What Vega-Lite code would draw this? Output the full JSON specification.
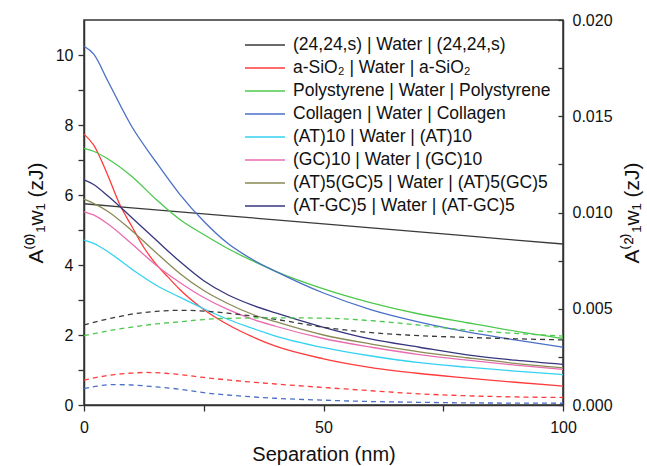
{
  "$schema": "https://vega.github.io/schema/vega-lite/v6.json",
  "width": 479,
  "height": 385,
  "autosize": {"type": "none"},
  "padding": {"left": 84, "top": 20, "right": 84, "bottom": 61},
  "background": "white",
  "config": {
    "font": "Liberation Sans",
    "view": {"stroke": "#333333", "strokeWidth": 1.5},
    "axis": {
      "grid": false,
      "domainColor": "#333333",
      "domainWidth": 1.5,
      "tickColor": "#333333",
      "tickWidth": 1.3,
      "labelFontSize": 16,
      "labelColor": "#111111",
      "labelFlush": false,
      "titleFontSize": 20,
      "titleFontWeight": "normal",
      "titleColor": "#111111"
    },
    "legend": {
      "labelFontSize": 17.5,
      "labelColor": "#111111",
      "symbolType": "M-2,0H2",
      "symbolSize": 400,
      "symbolStrokeWidth": 1.3,
      "rowPadding": 3,
      "labelOffset": 17,
      "labelLimit": 400
    }
  },
  "datasets": {
    "solid": [
      {"s": "(24,24,s) | Water | (24,24,s)", "x": 0, "y": 5.75},
      {"s": "(24,24,s) | Water | (24,24,s)", "x": 20, "y": 5.52},
      {"s": "(24,24,s) | Water | (24,24,s)", "x": 40, "y": 5.29},
      {"s": "(24,24,s) | Water | (24,24,s)", "x": 60, "y": 5.06},
      {"s": "(24,24,s) | Water | (24,24,s)", "x": 80, "y": 4.83},
      {"s": "(24,24,s) | Water | (24,24,s)", "x": 100, "y": 4.6},
      {"s": "a-SiO₂ | Water | a-SiO₂", "x": 0, "y": 7.74},
      {"s": "a-SiO₂ | Water | a-SiO₂", "x": 2, "y": 7.43},
      {"s": "a-SiO₂ | Water | a-SiO₂", "x": 5, "y": 6.55},
      {"s": "a-SiO₂ | Water | a-SiO₂", "x": 7.5, "y": 5.72},
      {"s": "a-SiO₂ | Water | a-SiO₂", "x": 10, "y": 5.1},
      {"s": "a-SiO₂ | Water | a-SiO₂", "x": 12.5, "y": 4.5},
      {"s": "a-SiO₂ | Water | a-SiO₂", "x": 15, "y": 4.03},
      {"s": "a-SiO₂ | Water | a-SiO₂", "x": 17.5, "y": 3.66},
      {"s": "a-SiO₂ | Water | a-SiO₂", "x": 20, "y": 3.3},
      {"s": "a-SiO₂ | Water | a-SiO₂", "x": 25, "y": 2.73},
      {"s": "a-SiO₂ | Water | a-SiO₂", "x": 30, "y": 2.3},
      {"s": "a-SiO₂ | Water | a-SiO₂", "x": 35, "y": 1.96},
      {"s": "a-SiO₂ | Water | a-SiO₂", "x": 40, "y": 1.68},
      {"s": "a-SiO₂ | Water | a-SiO₂", "x": 50, "y": 1.32},
      {"s": "a-SiO₂ | Water | a-SiO₂", "x": 60, "y": 1.07},
      {"s": "a-SiO₂ | Water | a-SiO₂", "x": 70, "y": 0.9},
      {"s": "a-SiO₂ | Water | a-SiO₂", "x": 80, "y": 0.77},
      {"s": "a-SiO₂ | Water | a-SiO₂", "x": 90, "y": 0.65},
      {"s": "a-SiO₂ | Water | a-SiO₂", "x": 100, "y": 0.54},
      {"s": "Polystyrene | Water | Polystyrene", "x": 0, "y": 7.33},
      {"s": "Polystyrene | Water | Polystyrene", "x": 2, "y": 7.25},
      {"s": "Polystyrene | Water | Polystyrene", "x": 5, "y": 7.03},
      {"s": "Polystyrene | Water | Polystyrene", "x": 10, "y": 6.53},
      {"s": "Polystyrene | Water | Polystyrene", "x": 15, "y": 5.88},
      {"s": "Polystyrene | Water | Polystyrene", "x": 20, "y": 5.3},
      {"s": "Polystyrene | Water | Polystyrene", "x": 25, "y": 4.87},
      {"s": "Polystyrene | Water | Polystyrene", "x": 30, "y": 4.47},
      {"s": "Polystyrene | Water | Polystyrene", "x": 35, "y": 4.13},
      {"s": "Polystyrene | Water | Polystyrene", "x": 40, "y": 3.82},
      {"s": "Polystyrene | Water | Polystyrene", "x": 50, "y": 3.32},
      {"s": "Polystyrene | Water | Polystyrene", "x": 60, "y": 2.92},
      {"s": "Polystyrene | Water | Polystyrene", "x": 70, "y": 2.6},
      {"s": "Polystyrene | Water | Polystyrene", "x": 80, "y": 2.35},
      {"s": "Polystyrene | Water | Polystyrene", "x": 90, "y": 2.11},
      {"s": "Polystyrene | Water | Polystyrene", "x": 100, "y": 1.9},
      {"s": "Collagen | Water | Collagen", "x": 0, "y": 10.25},
      {"s": "Collagen | Water | Collagen", "x": 2, "y": 10.03},
      {"s": "Collagen | Water | Collagen", "x": 5, "y": 9.25},
      {"s": "Collagen | Water | Collagen", "x": 10, "y": 7.95},
      {"s": "Collagen | Water | Collagen", "x": 15, "y": 6.95},
      {"s": "Collagen | Water | Collagen", "x": 20, "y": 6.02},
      {"s": "Collagen | Water | Collagen", "x": 25, "y": 5.25},
      {"s": "Collagen | Water | Collagen", "x": 30, "y": 4.62},
      {"s": "Collagen | Water | Collagen", "x": 35, "y": 4.17},
      {"s": "Collagen | Water | Collagen", "x": 40, "y": 3.82},
      {"s": "Collagen | Water | Collagen", "x": 50, "y": 3.2},
      {"s": "Collagen | Water | Collagen", "x": 60, "y": 2.72},
      {"s": "Collagen | Water | Collagen", "x": 70, "y": 2.37},
      {"s": "Collagen | Water | Collagen", "x": 80, "y": 2.09},
      {"s": "Collagen | Water | Collagen", "x": 90, "y": 1.86},
      {"s": "Collagen | Water | Collagen", "x": 100, "y": 1.65},
      {"s": "(AT)10 | Water | (AT)10", "x": 0, "y": 4.71},
      {"s": "(AT)10 | Water | (AT)10", "x": 2, "y": 4.62},
      {"s": "(AT)10 | Water | (AT)10", "x": 5, "y": 4.38},
      {"s": "(AT)10 | Water | (AT)10", "x": 10, "y": 3.88},
      {"s": "(AT)10 | Water | (AT)10", "x": 15, "y": 3.43},
      {"s": "(AT)10 | Water | (AT)10", "x": 20, "y": 3.08},
      {"s": "(AT)10 | Water | (AT)10", "x": 25, "y": 2.75},
      {"s": "(AT)10 | Water | (AT)10", "x": 30, "y": 2.45},
      {"s": "(AT)10 | Water | (AT)10", "x": 35, "y": 2.2},
      {"s": "(AT)10 | Water | (AT)10", "x": 40, "y": 1.97},
      {"s": "(AT)10 | Water | (AT)10", "x": 50, "y": 1.64},
      {"s": "(AT)10 | Water | (AT)10", "x": 60, "y": 1.4},
      {"s": "(AT)10 | Water | (AT)10", "x": 70, "y": 1.21},
      {"s": "(AT)10 | Water | (AT)10", "x": 80, "y": 1.08},
      {"s": "(AT)10 | Water | (AT)10", "x": 90, "y": 0.97},
      {"s": "(AT)10 | Water | (AT)10", "x": 100, "y": 0.87},
      {"s": "(GC)10 | Water | (GC)10", "x": 0, "y": 5.52},
      {"s": "(GC)10 | Water | (GC)10", "x": 2, "y": 5.43},
      {"s": "(GC)10 | Water | (GC)10", "x": 5, "y": 5.17},
      {"s": "(GC)10 | Water | (GC)10", "x": 10, "y": 4.6},
      {"s": "(GC)10 | Water | (GC)10", "x": 15, "y": 4.0},
      {"s": "(GC)10 | Water | (GC)10", "x": 20, "y": 3.5},
      {"s": "(GC)10 | Water | (GC)10", "x": 25, "y": 3.07},
      {"s": "(GC)10 | Water | (GC)10", "x": 30, "y": 2.73},
      {"s": "(GC)10 | Water | (GC)10", "x": 35, "y": 2.46},
      {"s": "(GC)10 | Water | (GC)10", "x": 40, "y": 2.25},
      {"s": "(GC)10 | Water | (GC)10", "x": 50, "y": 1.9},
      {"s": "(GC)10 | Water | (GC)10", "x": 60, "y": 1.65},
      {"s": "(GC)10 | Water | (GC)10", "x": 70, "y": 1.44},
      {"s": "(GC)10 | Water | (GC)10", "x": 80, "y": 1.28},
      {"s": "(GC)10 | Water | (GC)10", "x": 90, "y": 1.14},
      {"s": "(GC)10 | Water | (GC)10", "x": 100, "y": 1.02},
      {"s": "(AT)5(GC)5 | Water | (AT)5(GC)5", "x": 0, "y": 5.88},
      {"s": "(AT)5(GC)5 | Water | (AT)5(GC)5", "x": 2, "y": 5.76},
      {"s": "(AT)5(GC)5 | Water | (AT)5(GC)5", "x": 5, "y": 5.53},
      {"s": "(AT)5(GC)5 | Water | (AT)5(GC)5", "x": 10, "y": 4.98},
      {"s": "(AT)5(GC)5 | Water | (AT)5(GC)5", "x": 15, "y": 4.36},
      {"s": "(AT)5(GC)5 | Water | (AT)5(GC)5", "x": 20, "y": 3.76},
      {"s": "(AT)5(GC)5 | Water | (AT)5(GC)5", "x": 25, "y": 3.27},
      {"s": "(AT)5(GC)5 | Water | (AT)5(GC)5", "x": 30, "y": 2.9},
      {"s": "(AT)5(GC)5 | Water | (AT)5(GC)5", "x": 35, "y": 2.6},
      {"s": "(AT)5(GC)5 | Water | (AT)5(GC)5", "x": 40, "y": 2.38},
      {"s": "(AT)5(GC)5 | Water | (AT)5(GC)5", "x": 50, "y": 2.0},
      {"s": "(AT)5(GC)5 | Water | (AT)5(GC)5", "x": 60, "y": 1.74},
      {"s": "(AT)5(GC)5 | Water | (AT)5(GC)5", "x": 70, "y": 1.52},
      {"s": "(AT)5(GC)5 | Water | (AT)5(GC)5", "x": 80, "y": 1.35},
      {"s": "(AT)5(GC)5 | Water | (AT)5(GC)5", "x": 90, "y": 1.19},
      {"s": "(AT)5(GC)5 | Water | (AT)5(GC)5", "x": 100, "y": 1.06},
      {"s": "(AT-GC)5 | Water | (AT-GC)5", "x": 0, "y": 6.43},
      {"s": "(AT-GC)5 | Water | (AT-GC)5", "x": 2, "y": 6.3},
      {"s": "(AT-GC)5 | Water | (AT-GC)5", "x": 5, "y": 5.97},
      {"s": "(AT-GC)5 | Water | (AT-GC)5", "x": 10, "y": 5.35},
      {"s": "(AT-GC)5 | Water | (AT-GC)5", "x": 15, "y": 4.72},
      {"s": "(AT-GC)5 | Water | (AT-GC)5", "x": 20, "y": 4.1},
      {"s": "(AT-GC)5 | Water | (AT-GC)5", "x": 25, "y": 3.55},
      {"s": "(AT-GC)5 | Water | (AT-GC)5", "x": 30, "y": 3.15},
      {"s": "(AT-GC)5 | Water | (AT-GC)5", "x": 35, "y": 2.86},
      {"s": "(AT-GC)5 | Water | (AT-GC)5", "x": 40, "y": 2.63},
      {"s": "(AT-GC)5 | Water | (AT-GC)5", "x": 50, "y": 2.22},
      {"s": "(AT-GC)5 | Water | (AT-GC)5", "x": 60, "y": 1.88},
      {"s": "(AT-GC)5 | Water | (AT-GC)5", "x": 70, "y": 1.65},
      {"s": "(AT-GC)5 | Water | (AT-GC)5", "x": 80, "y": 1.43},
      {"s": "(AT-GC)5 | Water | (AT-GC)5", "x": 90, "y": 1.28},
      {"s": "(AT-GC)5 | Water | (AT-GC)5", "x": 100, "y": 1.16}
    ],
    "dashed": [
      {"s": "(24,24,s) | Water | (24,24,s)", "x": 0, "y": 0.00416},
      {"s": "(24,24,s) | Water | (24,24,s)", "x": 5, "y": 0.00447},
      {"s": "(24,24,s) | Water | (24,24,s)", "x": 10, "y": 0.00472},
      {"s": "(24,24,s) | Water | (24,24,s)", "x": 15, "y": 0.00486},
      {"s": "(24,24,s) | Water | (24,24,s)", "x": 20, "y": 0.00492},
      {"s": "(24,24,s) | Water | (24,24,s)", "x": 25, "y": 0.00488},
      {"s": "(24,24,s) | Water | (24,24,s)", "x": 30, "y": 0.00477},
      {"s": "(24,24,s) | Water | (24,24,s)", "x": 40, "y": 0.00445},
      {"s": "(24,24,s) | Water | (24,24,s)", "x": 50, "y": 0.00404},
      {"s": "(24,24,s) | Water | (24,24,s)", "x": 60, "y": 0.00376},
      {"s": "(24,24,s) | Water | (24,24,s)", "x": 70, "y": 0.0036},
      {"s": "(24,24,s) | Water | (24,24,s)", "x": 80, "y": 0.00351},
      {"s": "(24,24,s) | Water | (24,24,s)", "x": 90, "y": 0.00344},
      {"s": "(24,24,s) | Water | (24,24,s)", "x": 100, "y": 0.00338},
      {"s": "Polystyrene | Water | Polystyrene", "x": 0, "y": 0.0036},
      {"s": "Polystyrene | Water | Polystyrene", "x": 5, "y": 0.00385},
      {"s": "Polystyrene | Water | Polystyrene", "x": 10, "y": 0.00405},
      {"s": "Polystyrene | Water | Polystyrene", "x": 15, "y": 0.00421},
      {"s": "Polystyrene | Water | Polystyrene", "x": 20, "y": 0.00432},
      {"s": "Polystyrene | Water | Polystyrene", "x": 25, "y": 0.00444},
      {"s": "Polystyrene | Water | Polystyrene", "x": 30, "y": 0.0045},
      {"s": "Polystyrene | Water | Polystyrene", "x": 40, "y": 0.00453},
      {"s": "Polystyrene | Water | Polystyrene", "x": 50, "y": 0.00451},
      {"s": "Polystyrene | Water | Polystyrene", "x": 60, "y": 0.00438},
      {"s": "Polystyrene | Water | Polystyrene", "x": 70, "y": 0.00415},
      {"s": "Polystyrene | Water | Polystyrene", "x": 80, "y": 0.00389},
      {"s": "Polystyrene | Water | Polystyrene", "x": 90, "y": 0.00372},
      {"s": "Polystyrene | Water | Polystyrene", "x": 100, "y": 0.00358},
      {"s": "a-SiO₂ | Water | a-SiO₂", "x": 0, "y": 0.00129},
      {"s": "a-SiO₂ | Water | a-SiO₂", "x": 3, "y": 0.00145},
      {"s": "a-SiO₂ | Water | a-SiO₂", "x": 6, "y": 0.00157},
      {"s": "a-SiO₂ | Water | a-SiO₂", "x": 10, "y": 0.00166},
      {"s": "a-SiO₂ | Water | a-SiO₂", "x": 13, "y": 0.00169},
      {"s": "a-SiO₂ | Water | a-SiO₂", "x": 17, "y": 0.00165},
      {"s": "a-SiO₂ | Water | a-SiO₂", "x": 20, "y": 0.00158},
      {"s": "a-SiO₂ | Water | a-SiO₂", "x": 25, "y": 0.00143},
      {"s": "a-SiO₂ | Water | a-SiO₂", "x": 30, "y": 0.0013},
      {"s": "a-SiO₂ | Water | a-SiO₂", "x": 40, "y": 0.00109},
      {"s": "a-SiO₂ | Water | a-SiO₂", "x": 50, "y": 0.00091},
      {"s": "a-SiO₂ | Water | a-SiO₂", "x": 60, "y": 0.00074},
      {"s": "a-SiO₂ | Water | a-SiO₂", "x": 70, "y": 0.00058},
      {"s": "a-SiO₂ | Water | a-SiO₂", "x": 80, "y": 0.00048},
      {"s": "a-SiO₂ | Water | a-SiO₂", "x": 90, "y": 0.00042},
      {"s": "a-SiO₂ | Water | a-SiO₂", "x": 100, "y": 0.00039},
      {"s": "Collagen | Water | Collagen", "x": 0, "y": 0.00085},
      {"s": "Collagen | Water | Collagen", "x": 3, "y": 0.00099},
      {"s": "Collagen | Water | Collagen", "x": 6, "y": 0.00106},
      {"s": "Collagen | Water | Collagen", "x": 10, "y": 0.00104},
      {"s": "Collagen | Water | Collagen", "x": 15, "y": 0.00094},
      {"s": "Collagen | Water | Collagen", "x": 20, "y": 0.00082},
      {"s": "Collagen | Water | Collagen", "x": 25, "y": 0.00064},
      {"s": "Collagen | Water | Collagen", "x": 30, "y": 0.00052},
      {"s": "Collagen | Water | Collagen", "x": 40, "y": 0.00035},
      {"s": "Collagen | Water | Collagen", "x": 50, "y": 0.00025},
      {"s": "Collagen | Water | Collagen", "x": 60, "y": 0.00018},
      {"s": "Collagen | Water | Collagen", "x": 70, "y": 0.00014},
      {"s": "Collagen | Water | Collagen", "x": 80, "y": 0.00011},
      {"s": "Collagen | Water | Collagen", "x": 90, "y": 0.0001},
      {"s": "Collagen | Water | Collagen", "x": 100, "y": 0.00009}
    ]
  },
  "layer": [
    {
      "data": {"name": "solid"},
      "mark": {"type": "line", "strokeWidth": 1.3, "interpolate": "monotone"},
      "encoding": {
        "x": {
          "field": "x", "type": "quantitative",
          "scale": {"domain": [0, 100], "nice": false},
          "axis": {
            "title": "Separation (nm)",
            "titlePadding": 9,
            "values": [0, 25, 50, 75, 100],
            "labelExpr": "datum.value % 50 == 0 ? datum.label : ''",
            "tickSize": 6,
            "labelPadding": 8
          }
        },
        "y": {
          "field": "y", "type": "quantitative",
          "scale": {"domain": [0, 11], "nice": false},
          "axis": {
            "orient": "left",
            "title": "A⁽⁰⁾₁w₁ (zJ)",
            "titleFontSize": 21,
            "values": [0, 1, 2, 3, 4, 5, 6, 7, 8, 9, 10],
            "labelExpr": "datum.value % 2 == 0 ? datum.label : ''",
            "tickSize": 6,
            "labelPadding": 5,
            "titlePadding": 9
          }
        },
        "color": {
          "field": "s", "type": "nominal",
          "scale": {
            "domain": ["(24,24,s) | Water | (24,24,s)", "a-SiO₂ | Water | a-SiO₂", "Polystyrene | Water | Polystyrene", "Collagen | Water | Collagen", "(AT)10 | Water | (AT)10", "(GC)10 | Water | (GC)10", "(AT)5(GC)5 | Water | (AT)5(GC)5", "(AT-GC)5 | Water | (AT-GC)5"],
            "range": ["#3a3a3a", "#ff3b3b", "#4cc84c", "#4a6fc7", "#33d2f0", "#ea6cb0", "#8a8a55", "#36367e"]
          },
          "legend": {"title": null, "orient": "none", "legendX": 170, "legendY": 14}
        }
      }
    },
    {
      "data": {"name": "dashed"},
      "mark": {"type": "line", "strokeWidth": 1.3, "strokeDash": [5, 4], "interpolate": "monotone"},
      "encoding": {
        "x": {"field": "x", "type": "quantitative"},
        "y": {
          "field": "y", "type": "quantitative",
          "scale": {"domain": [0, 0.02], "nice": false},
          "axis": {
            "orient": "right",
            "title": "A⁽²⁾₁w₁ (zJ)",
            "titleFontSize": 21,
            "titleAngle": 270,
            "values": [0, 0.0025, 0.005, 0.0075, 0.01, 0.0125, 0.015, 0.0175, 0.02],
            "format": ".3f",
            "labelExpr": "round(datum.value * 10000) % 50 == 0 ? datum.label : ''",
            "tickSize": -5,
            "labelPadding": 14,
            "titlePadding": 30
          }
        },
        "color": {"field": "s", "type": "nominal", "legend": null}
      }
    }
  ],
  "resolve": {"scale": {"y": "independent"}}
}
